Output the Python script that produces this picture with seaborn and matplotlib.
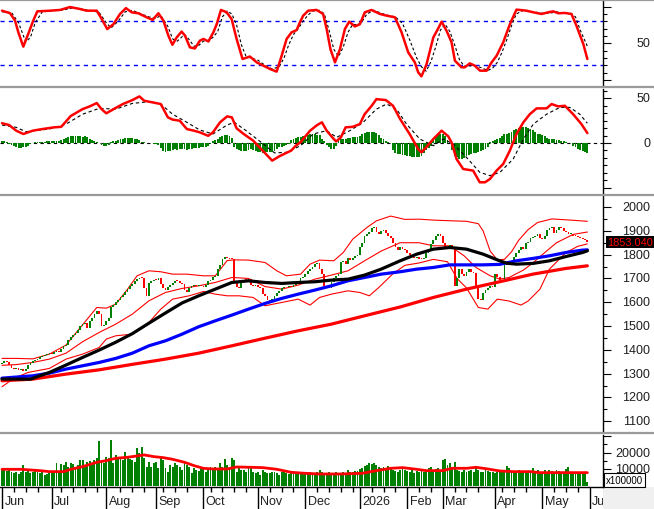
import numpy as np
import pandas as pd
import matplotlib
matplotlib.use("Agg")
import matplotlib.pyplot as plt
import seaborn as sns
from matplotlib.transforms import blended_transform_factory as btf
from matplotlib.lines import Line2D
from matplotlib.patches import Rectangle
from matplotlib.ticker import MultipleLocator, FixedLocator

# ---------------- data ----------------
close = [1345,1352,1348,1335,1325,1318,1322,1315,1320,1312,
         1318,1335,1345,1352,1358,1362,1368,1372,1378,1382,
         1386,1384,1390,1395,1392,1405,1415,1422,1440,1452,
         1462,1470,1485,1500,1508,1512,1490,1520,1535,1550,
         1565,1550,1500,1505,1520,1535,1580,1590,1600,1608,
         1620,1632,1645,1655,1668,1678,1690,1698,1702,1700,
         1660,1625,1680,1690,1695,1692,1700,1678,1660,1650,
         1665,1672,1680,1690,1688,1680,1675,1650,1645,1660,
         1668,1672,1668,1672,1670,1665,1672,1688,1692,1705,
         1712,1740,1755,1780,1790,1785,1782,1780,1690,1665,
         1660,1685,1695,1692,1698,1672,1668,1672,1665,1660,
         1635,1625,1608,1600,1615,1625,1640,1648,1660,1662,
         1665,1668,1665,1672,1678,1690,1700,1708,1720,1730,
         1740,1748,1760,1765,1740,1720,1670,1662,1660,1685,
         1700,1710,1720,1770,1775,1760,1785,1778,1785,1795,
         1800,1830,1850,1880,1885,1895,1910,1915,1895,1885,
         1900,1905,1890,1880,1870,1850,1830,1820,1830,1822,
         1820,1808,1800,1790,1785,1792,1782,1780,1785,1805,
         1825,1845,1862,1878,1885,1880,1850,1830,1825,1840,
         1825,1670,1700,1738,1720,1712,1728,1740,1725,1722,
         1665,1615,1610,1640,1652,1660,1668,1665,1720,1705,
         1692,1688,1755,1760,1765,1775,1790,1805,1820,1830,
         1825,1848,1855,1868,1875,1880,1885,1868,1865,1880,
         1905,1912,1918,1890,1905,1918,1912,1900,1895,1885,
         1888,1880,1878,1872,1870,1865,1860,1853.04]
first_open = 1340

volume = [9600,10600,9000,9600,8600,7600,8200,7000,8600,12600,
          8600,9000,7600,8200,9600,8200,7600,8600,6600,7000,
          7600,7600,9000,13600,8600,13000,12600,14600,11600,13600,
          13000,11600,12600,15600,15600,11600,14600,15000,12600,15600,
          17000,27000,14600,13600,17600,16600,27600,13600,18600,16200,
          17600,15600,20600,17600,16200,15600,14600,23000,19600,23600,
          16600,11600,14600,11600,13600,14600,10600,17600,15600,10600,
          8600,12600,11600,13600,12600,11600,9600,14600,12600,11600,
          7600,10600,9600,9000,11600,10600,8600,9600,11600,10600,
          11600,10600,13600,11600,16000,12600,10600,16600,15600,8600,
          10600,9600,9600,8600,10600,10600,8600,7600,8600,6600,
          9600,8600,7600,7600,8200,8600,7600,6600,8200,8600,
          7600,7000,7600,8600,8200,7600,7000,7600,
          7600,7000,8200,6600,7600,8600,9600,
          8200,7000,7600,8200,7000,7600,8600,7400,7000,8200,7600,
          9600,8200,8600,9000,9000,10000,10600,12200,12600,
          13600,13000,13600,12600,11600,10600,11600,11000,12000,10600,
          9600,9000,8600,9600,10200,9600,9000,
          8600,9600,7600,9000,8200,9600,8600,
          9600,10600,11600,9600,10000,10600,9600,
          15600,16000,12600,13600,11600,14600,
          9600,9000,8600,9600,8200,9000,9400,8600,11600,
          9600,8600,8200,9600,9000,8200,8600,7600,8200,9000,8600,
          8600,12200,
          10600,9000,8200,8600,9600,7600,8600,8200,9000,8600,10600,
          9000,9600,8200,8600,9600,7600,9600,9000,8600,
          9600,9000,8600,8200,10000,11600,
          8200,7000,7600,8200,8600,7600,7000,2600]

macd_hist = [2,2,1.5,
             -1,-2.5,-3.5,-4.5,-5.5,-5.5,-5,-4,-3,-1.5,
             0.5,0.7,0.8,1,1,
             1.5,1.8,2,2,2.2,2.5,2.5,3,
             4.5,6,7,7.5,8,8,
             7.5,7.5,7,7.4,6.5,
             4,3,2.5,1.5,0.5,
             -2,-3,-3.5,-2,
             1,2,2.6,3,4,
             5,5.5,6,6,5.5,5,4,3,
             1.5,0.7,0.5,0,-0.5,-1,-1.5,-1.8,
             -6,-9,-9.5,-9,-8.5,-8,
             -7,-7.5,-7,-6.5,-7,-7.5,-7,-6.5,-6,-6,-5.5,
             -5,-4.5,-4,-3,-1,
             2,3,
             5,7,8,9,9,8,6,
             -4,-7,-8,-8.5,-9,-8.5,-8,-7,-8,
             -9,-10,-10.5,-11,-11,-10.5,-10,-10,-9,-7,-5,
             -4,-3,-2,-1,
             3,5,6,6.5,7,7.5,8,
             9,9.5,10,9.5,9,8.5,
             4.5,2,-2,
             -5,-6.5,-7,-3,
             3,4.4,4.5,5,
             5.5,6,6.3,6.5,7,8,
             10,11,12,12.5,12,12,11,9,
             6,4,2.5,1.5,0.5,
             -8,-11,-12,-12.5,-13,-13,
             -14,-15,-15.5,-16,-16,-15.5,-14.5,
             -11,-8,-6,-3,
             5,8,9,10,9.5,8,
             3,0.5,
             -8,-14,-16,-17.5,-18,-17,-15,
             -13,-12,-11.5,-11,-10.5,
             -9,-8,-6.5,-5,
             1,2.5,3,4,
             6,8,9.5,10.5,11,12,
             14,15.5,16.5,17.5,18,17.5,17,16,14,
             12,10.5,9.5,9,8,
             6,5,4.5,4,3.5,3,2.5,2,
             1,0.5,-0.5,
             -3,-5,-7,-8,-9,-10,-11]

k_idx = [0,3.4,5.5,6.9,9.0,11.1,13.2,14.9,20.3,24.5,28.7,32.9,35.7,40,42.1,44.4,47,49.8,52.3,54.7,
         57.5,61,63.6,66,68.1,70.2,71.9,73.7,75.8,77.2,79.3,81.4,83.5,85,87.1,89.2,90.6,92.4,94.8,96.9,
         99,101.5,104.6,107.5,110.3,113.1,115.9,118,120.1,122.2,124.3,125.7,127.1,129.2,132.7,135.5,137,138.6,140.5,142.6,
         144.7,146.5,148.9,151,153.1,155.9,159.5,162.3,165.8,168.6,171.4,174.2,175.6,177,179.1,182,184.1,185.5,187.6,189.7,
         191.1,193.9,195.3,197.4,199.5,201.7,204.5,206.6,208.7,211.5,214.3,217.1,221.3,224.2,227.7,230.5,232.6,234.7,237.5,240.3,
         242.4,245.3,247]
k_val = [94.5,91,81,65,45.5,63,81,93.6,94.5,95.5,99.5,96.8,94.5,94.5,83,69.5,76,90,98,92.3,
         91,85.5,82,91,81,60.5,48,58,66,60.5,44.5,43,53.6,56,52.5,65,76,95.5,92.3,83,
         56,28.6,32,24,19.5,15,11.4,33,56,65,68,78.6,87.7,94.5,95.5,90,69.5,42,24,42,
         69.5,79.5,73,76,92.3,95.5,90,87.7,85.5,65,37.7,24,10.5,5,21,58,70.5,79.5,67,51.4,
         26.4,17.3,17.3,22.7,19.5,12.7,12.7,24,33,51.4,76,96,94.5,92.3,90,92.3,93.6,91,91.4,90,
         74,49,28.6]

d_idx = [0,4,7,10,12,14,17,22,26,30,34,38,41,44,46,49,52,55,58,62,
         65,67,70,72,74,77,79,81,83,85,87,89,91,93,95,97,99,101,103,106,
         108,111,114,117,119,121,123,125,127,129,131,134,136,138,140,142,144,146,148,150,
         152,154,157,160,163,166,169,172,175,177,179,181,183,185,187,189,191,193,195,197,
         199,202,205,207,209,211,213,215,217,220,224,228,231,234,237,240,242,244,247]
d_val = [93,92,78,52,58,78,93,94.5,95.5,98.5,96.5,94.5,92,78,71,80,93,95,91,86,
         84,88,73,56,53,62,55,46,47,53,54,58,66,86,94,90,75,48,32,29,
         27,20,15,18,30,48,62,70,80,88,94,95,90,68,42,32,45,65,76,75,
         80,90,95,91,88,86,77,55,30,18,12,25,45,68,76,66,48,28,19,19,
         20,17,13,16,24,38,55,74,90,95,93,91,91,93,91,91,86,68,46]

macd_idx = [0,3,6,9,13,17,22,25,29,34,37,40,42,44,48,51,55,58,60,65,
            67,70,72,75,78,81,83.5,87,89,92,95,97,99,102,106,110,114,117,122,124,
            126,130,133,135,137,140,141,143,145,148,151,153,156,158,162,165,168,172,175.6,177,
            179,182,185.5,188.3,189.7,191.8,194.6,198.8,201.6,203.8,205.9,208.7,211.5,214.3,217.1,220,222.7,225.6,229.8,231.9,
            234.7,237.5,241,244.5,247]
macd_val = [22,20,13.7,10,13.7,15.5,17.4,18,30,37.7,40.7,44.4,37.7,33,39,43.3,47.7,51.8,47,44.4,
            43.3,28.5,26,24.8,15.5,13.7,11.8,8,11.8,23,29.6,28.5,16.3,10,2.6,-8.5,-19.6,-14.8,-8.5,-3,
            1,13.7,20,23,13.7,4.4,1.8,6.3,17.4,18,21,32,41.4,48.8,47.7,41.4,26.6,10,-6.7,-10.4,
            -4.8,4.4,13.7,7.4,0.7,-17.8,-28.9,-30.7,-43.7,-43.7,-40,-30.7,-23.3,-8.5,10,23,32,38.5,38.5,43.3,
            40.7,41.4,32,21,11]

sig_idx = [0,6,10,20,27,34,41,48,55,62,67,72,78,83.5,89,95,98,103,109,115,
           120,126,131.3,137,141.2,146.8,152.4,158,162.3,166.5,170.7,176.3,182,186.2,190.4,196,201.6,205.9,210.1,215.7,
           220,224.2,229.8,235.4,239.6,243.8,247]
sig_val = [20,17.4,12.6,15.5,21,32,38.5,37.7,44,46,43.3,32,23,14.4,10,20,23,13.7,1.5,-11,
           -10.4,-3,10,13.7,6.3,13.7,23,37.7,43.3,37.7,21,4.4,-3,4.4,-1,-16,-32.6,-36.3,-32.6,-17.8,
           4.4,21,32,39.6,39.6,32,22]

ma50_idx = [0,12,20,27,34,41,48,55,62,69,76,83,90,97,104,111,118,125,132,139,
            146,153,160,168,175,182,189,196,203,210,213,217,224,231,238,245,247]
ma50_val = [1277,1277,1305,1336,1368,1399,1432,1468,1512,1555,1597,1627,1655,1683,1690,1683,1679,1683,1686,1693,
            1697,1714,1739,1774,1802,1823,1830,1823,1802,1774,1764,1760,1763,1774,1792,1809,1816]

ma100_idx = [0,13,20,27,34,41,48,55,62,69,76,83,90,97,104,111,118,125,132,139,
             146,153,160,168,175,182,189,196,203,210,217,224,231,238,245,247]
ma100_val = [1281,1291,1302,1319,1333,1347,1364,1386,1417,1438,1466,1497,1522,1546,1571,1595,1616,1634,1651,1669,
             1690,1704,1718,1728,1739,1746,1757,1757,1757,1759,1774,1784,1795,1809,1819,1820]

ma200_idx = [0,13,27,41,55,69,83,97,111,125,139,153,168,182,196,210,224,238,247]
ma200_val = [1270,1277,1298,1316,1339,1361,1386,1417,1449,1480,1508,1543,1580,1620,1655,1686,1718,1742,1753]

bbu_idx = [0,6,13,20,27,34,40,44,48,53,57,62,67,72,78,85,90,95,98,104,
           111,116,120,126,130,134,140,144,148,154,158,164,170,176,182,190,196,201,203,206,
           209,212,215,218,222,226,232,240,247]
bbu_val = [1364,1364,1362,1382,1420,1505,1578,1575,1592,1655,1711,1732,1728,1718,1718,1711,1711,1775,1778,1777,
           1767,1732,1711,1718,1760,1777,1774,1809,1865,1914,1942,1962,1948,1949,1945,1942,1940,1930,1900,1815,
           1778,1780,1812,1860,1905,1935,1950,1945,1940]

bbm_idx = [0,6,13,20,27,34,41,48,55,62,69,76,83,90,97,104,111,118,125,132,
           139,146,153,160,168,176,182,189,195,200,206,210,214,220,224,228,234,241,247]
bbm_val = [1335,1338,1347,1361,1386,1434,1473,1508,1550,1606,1641,1658,1669,1683,1704,1700,1666,1655,1672,1697,
           1714,1732,1774,1815,1850,1850,1837,1837,1795,1746,1711,1697,1704,1735,1765,1800,1850,1885,1895]

bbl_idx = [0,5,11,20,27,34,41,44,48,55,62,67,72,79,85,90,95,100,106,111,
           118,125,130,134,139,146,151,155,159,165,170,176,182,188,192,196,201,205,209,214,
           219,222,227,231,238,243,247]
bbl_val = [1245,1280,1305,1322,1361,1382,1410,1445,1459,1466,1515,1571,1613,1627,1645,1634,1627,1627,1620,1585,
           1599,1613,1588,1620,1634,1648,1641,1627,1662,1720,1755,1765,1780,1770,1700,1660,1578,1571,1613,1605,
           1588,1605,1655,1739,1809,1835,1845]

vma_idx = [0,8,16,20,26,29,34,40,44,48,53,57,60,64,68,72,77,81,85,89,
           95,99,105,110,116,122,128,134,143,152,158,164,169,175,179,186,190,196,200,205,
           210,216,223,227,233,238,247]
vma_val = [10000,10000,9200,8600,8600,10000,11600,14200,15200,16600,17200,18000,18600,17600,17000,16000,14200,12200,10600,10200,
           10200,11400,11200,11000,10000,8200,7600,7200,7200,7600,9200,10600,11000,10000,9200,9200,10600,10600,11200,10200,
           9000,8600,8600,8000,8000,8000,8000]

holidays = ["2025-09-01", "2025-09-02", "2026-01-01", "2026-01-02",
            "2026-02-16", "2026-02-17", "2026-02-18", "2026-02-19", "2026-02-20",
            "2026-04-27", "2026-04-30", "2026-05-01"]

price_ticks = [1100, 1200, 1300, 1400, 1500, 1600, 1700, 1800, 1900, 2000]
stoch_labels = [50]
macd_labels = [50, 0]
vol_labels = [10000, 20000]

# ---------------- style ----------------
sns.set_style("white")
plt.rcParams["font.family"] = ["Liberation Sans", "DejaVu Sans"]

W, H = 654, 510
fig = plt.figure(figsize=(W / 100, H / 100), dpi=100)
fig.patch.set_facecolor("white")


def rect(top, bottom, left=0, right=603):
    return [left / W, 1 - bottom / H, (right - left) / W, (bottom - top) / H]


ax1 = fig.add_axes(rect(2, 87))
ax2 = fig.add_axes(rect(89.5, 194))
ax3 = fig.add_axes(rect(197, 432))
ax4 = fig.add_axes(rect(436, 488))
axd = fig.add_axes(rect(488, 510))

c = np.array(close, dtype=float)
n = len(c)
x = np.arange(n)
o = np.r_[first_open, c[:-1]]
XL = (-0.84, 253.6)

GREEN = "#008000"
RED = "#ff0000"

for ax in (ax1, ax2, ax3, ax4):
    ax.set_facecolor("white")
    ax.set_xlim(*XL)
    for s in ("left", "top", "bottom"):
        ax.spines[s].set_visible(False)
    ax.spines["right"].set_color("black")
    ax.spines["right"].set_linewidth(1.0)
    ax.yaxis.tick_right()
    ax.tick_params(axis="y", which="major", direction="out", length=6, width=0.8,
                   color="black", labelright=False, labelleft=False)
    ax.tick_params(axis="y", which="minor", direction="out", length=3, width=0.8, color="black")
    ax.set_xticks([])
    ax.grid(False)

# ---- panel 1: stochastic ----
ax1.set_ylim(-8.2, 107.7)
ax1.yaxis.set_major_locator(FixedLocator([0, 50, 100]))
ax1.yaxis.set_minor_locator(MultipleLocator(10))
for lv in (80, 20):
    ax1.axhline(lv, color="#0000ff", lw=1.0, ls=(0, (3, 3)), zorder=1)
ax1.plot(d_idx, d_val, color="black", lw=0.8, ls=(0, (2.5, 2)), zorder=2)
sns.lineplot(x=k_idx, y=k_val, ax=ax1, color=RED, lw=1.8, sort=False, zorder=3)

# ---- panel 2: MACD ----
ax2.set_ylim(-55.6, 60.6)
ax2.yaxis.set_major_locator(FixedLocator([-50, 0, 50]))
ax2.yaxis.set_minor_locator(MultipleLocator(25 / 3))
ax2.axhline(0, color="black", lw=0.8, ls=(0, (3, 3)), zorder=1)
hx = np.arange(len(macd_hist))
ax2.bar(hx, macd_hist, width=0.8, color=GREEN, linewidth=0, zorder=2)
ax2.plot(sig_idx, sig_val, color="black", lw=0.8, ls=(0, (3, 2.5)), zorder=3)
sns.lineplot(x=macd_idx, y=macd_val, ax=ax2, color=RED, lw=1.8, sort=False, zorder=4)

# ---- panel 3: price ----
ax3.set_ylim(1059, 2046.3)
ax3.yaxis.set_major_locator(FixedLocator(price_ticks))
ax3.yaxis.set_minor_locator(MultipleLocator(50))
for bi, bv in ((bbu_idx, bbu_val), (bbm_idx, bbm_val), (bbl_idx, bbl_val)):
    sns.lineplot(x=bi, y=bv, ax=ax3, color=RED, lw=0.8, sort=False, zorder=2)
up = c >= o
bot = np.minimum(o, c)
hgt = np.maximum(np.abs(c - o), 4)
ax3.bar(x, hgt, bottom=bot, width=0.75, color=np.where(up, GREEN, RED), linewidth=0, zorder=3)
sns.lineplot(x=ma200_idx, y=ma200_val, ax=ax3, color=RED, lw=2.3, sort=False, zorder=4)
sns.lineplot(x=ma100_idx, y=ma100_val, ax=ax3, color="#0000ff", lw=2.3, sort=False, zorder=5)
sns.lineplot(x=ma50_idx, y=ma50_val, ax=ax3, color="black", lw=2.3, sort=False, zorder=6)

# ---- panel 4: volume ----
ax4.set_ylim(-600, 30540)
ax4.yaxis.set_major_locator(FixedLocator([0, 10000, 20000, 30000]))
ax4.yaxis.set_minor_locator(MultipleLocator(5000))
vx = np.arange(len(volume))
ax4.bar(vx, volume, width=0.8, color=GREEN, linewidth=0, zorder=2)
sns.lineplot(x=vma_idx, y=vma_val, ax=ax4, color=RED, lw=2.0, sort=False, zorder=3)

for ax in (ax1, ax2, ax3, ax4):
    ax.set_xlabel("")
    ax.set_ylabel("")
    ax.set_xlim(*XL)

# ---- right-side labels ----
LX = 650 / W
FS = 9
for v in stoch_labels:
    ax1.text(LX, v, str(v), transform=btf(fig.transFigure, ax1.transData),
             ha="right", va="center", fontsize=FS, color="#202020", clip_on=False)
for v in macd_labels:
    ax2.text(LX, v, str(v), transform=btf(fig.transFigure, ax2.transData),
             ha="right", va="center", fontsize=FS, color="#202020", clip_on=False)
for v in price_ticks:
    ax3.text(LX, v, str(v), transform=btf(fig.transFigure, ax3.transData),
             ha="right", va="center", fontsize=FS, color="#202020", clip_on=False)
for v in vol_labels:
    ax4.text(LX, v, str(v), transform=btf(fig.transFigure, ax4.transData),
             ha="right", va="center", fontsize=FS, color="#202020", clip_on=False)

fig.text(607.5 / W, 1 - 243.2 / H, f"{close[-1]:.3f}", color=RED, fontsize=7.9,
         ha="left", va="center", zorder=20,
         bbox=dict(boxstyle="square,pad=0.1", fc="black", ec="none"))
fig.text(606 / W, 1 - 481 / H, "x100000", color="black", fontsize=7,
         ha="left", va="center", zorder=20,
         bbox=dict(boxstyle="square,pad=0.18", fc="white", ec="black", lw=0.8))

# ---- date axis ----
dates = pd.bdate_range("2025-06-02", "2026-05-29")
dates = dates[~dates.isin(pd.to_datetime(holidays))][:n]
axd.set_xlim(*XL)
axd.set_ylim(0, 1)
axd.set_xticks([])
axd.set_yticks([])
for s in ("left", "right", "bottom"):
    axd.spines[s].set_visible(False)
axd.spines["top"].set_color("black")
axd.spines["top"].set_linewidth(1.0)

majors, labels = [], []
for i in range(n):
    if i == 0 or dates[i].month != dates[i - 1].month:
        majors.append(i)
        labels.append(str(dates[i].year) if dates[i].month == 1 else dates[i].strftime("%b"))
majors.append(n)
labels.append((dates[-1] + pd.offsets.MonthBegin(1)).strftime("%b"))
minors = [i for i in range(1, n) if dates[i].isocalendar()[1] != dates[i - 1].isocalendar()[1]
          and min(abs(i - m) for m in majors) > 2]

axd.vlines(majors, 0, 1, color="black", lw=1.0)
axd.vlines(minors, 0.77, 1, color="black", lw=1.0)
for m, lab in zip(majors, labels):
    axd.text(m + 1.0, 0.38, lab, ha="left", va="center", fontsize=FS, color="#202020", clip_on=True)

fig.add_artist(Rectangle((603 / W, 0), 51 / W, 22 / H, transform=fig.transFigure,
                         facecolor="#f0f0f0", edgecolor="none", zorder=0))

# ---- panel separators ----
for yy in (0.8, 88.3, 195.6, 434.0):
    fig.add_artist(Line2D([0, 1], [1 - yy / H] * 2, transform=fig.transFigure,
                          color="#9a9a9a", lw=1.6))

fig.savefig("out.png", dpi=100, facecolor="white")
